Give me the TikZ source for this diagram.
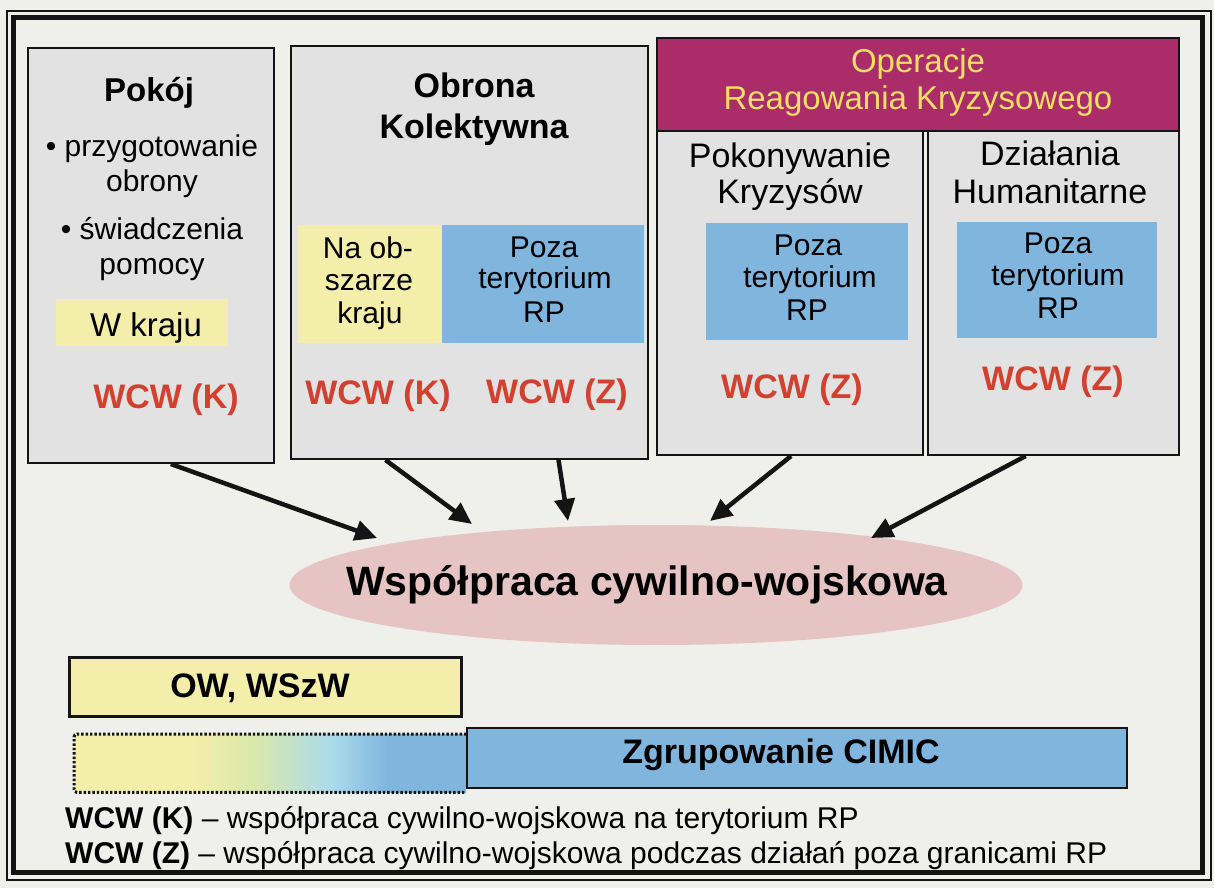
\documentclass[tikz,border=0pt]{standalone}
\usepackage{fontspec}
\setmainfont{Liberation Sans}
\usetikzlibrary{shapes.geometric,arrows.meta,calc}

\definecolor{pagebg}{RGB}{239,240,236}
\definecolor{boxgray}{RGB}{225,226,225}
\definecolor{linec}{RGB}{20,20,20}
\definecolor{paleyellow}{RGB}{243,238,170}
\definecolor{skyblue}{RGB}{128,181,222}
\definecolor{headmag}{RGB}{170,45,105}
\definecolor{headtext}{RGB}{242,222,102}
\definecolor{wcwred}{RGB}{210,64,47}
\definecolor{ovalpink}{RGB}{231,196,196}
\definecolor{midgreen}{RGB}{218,232,172}
\definecolor{midcyan}{RGB}{170,218,236}

\pgfdeclarehorizontalshading{barshade}{100bp}{%
  color(0bp)=(paleyellow); color(25bp)=(paleyellow); color(40bp)=(paleyellow);
  color(48bp)=(midgreen); color(58bp)=(midcyan); color(65bp)=(skyblue);
  color(100bp)=(skyblue)}

\newcommand\setfs[1]{\fontsize{#1}{#1}\selectfont}

\tikzset{
  panel/.style={rectangle, draw=linec, line width=2pt, fill=boxgray,
    inner sep=0pt, anchor=north west},
  patch/.style={rectangle, inner sep=0pt, anchor=north west},
  lbl/.style={anchor=base, inner sep=0pt},
  ttl/.style={lbl, font=\setfs{34}\bfseries},
  txt/.style={lbl, font=\setfs{30}},
  sub/.style={lbl, font=\setfs{34}},
  wcw/.style={lbl, font=\setfs{34}\bfseries, text=wcwred},
  hdr/.style={lbl, font=\setfs{33}, text=headtext},
  arr/.style={draw=linec, line width=4.5pt,
    -{Triangle[length=22pt,width=20pt]}},
}

\begin{document}
\begin{tikzpicture}[x=1pt,y=-1pt]
  % page and double frame
  \fill[pagebg] (0,0) rectangle (1214,888);
  \useasboundingbox (0,0) rectangle (1214,888);
  \draw[linec, line width=1.6pt] (7,11) rectangle (1211,880);
  \draw[linec, line width=5pt] (13.5,17.5) rectangle (1202,872.5);

  % --- Pokój ---
  \node[panel, minimum width=246pt, minimum height=415pt] (pokoj) at (27,47) {};
  \node[ttl, font=\setfs{33}\bfseries] (pokojt) at (149,102) {Pokój};
  \node[txt] (pk1) at (152,156) {• przygotowanie};
  \node[txt] (pk2) at (152,191) {obrony};
  \node[txt] (pk3) at (152,239) {• świadczenia};
  \node[txt] (pk4) at (152,274) {pomocy};
  \node[patch, fill=paleyellow, minimum width=172pt, minimum height=47pt] (wkraju) at (56,299) {};
  \node[lbl, font=\setfs{33}] (wkrajut) at (146,336) {W kraju};
  \node[wcw] (wcw1) at (166,408) {WCW (K)};

  % --- Obrona Kolektywna ---
  \node[panel, minimum width=357pt, minimum height=413pt] (obrona) at (290,45) {};
  \node[ttl] (ob1) at (474,98) {Obrona};
  \node[ttl] (ob2) at (474,138) {Kolektywna};
  \node[patch, fill=paleyellow, minimum width=144pt, minimum height=118pt] (naob) at (298,225) {};
  \node[patch, fill=skyblue, minimum width=202pt, minimum height=118pt] (pozaob) at (442,225) {};
  \node[txt] (na1) at (368,258) {Na ob-};
  \node[txt] (na2) at (369,290) {szarze};
  \node[txt] (na3) at (370,323) {kraju};
  \node[txt] (po1) at (544,257) {Poza};
  \node[txt] (po2) at (545,288) {terytorium};
  \node[txt] (po3) at (544,322) {RP};
  \node[wcw] (wcw2) at (378,404) {WCW (K)};
  \node[wcw] (wcw3) at (557,403) {WCW (Z)};

  % --- Operacje Reagowania Kryzysowego ---
  \node[panel, fill=headmag, minimum width=522pt, minimum height=93pt] (orkhead) at (656,37) {};
  \node[hdr] (h1) at (918,73) {Operacje};
  \node[hdr] (h2) at (918,110) {Reagowania Kryzysowego};

  \node[panel, minimum width=266pt, minimum height=324pt] (pokon) at (656,130) {};
  \node[sub] (pk5) at (790,167) {Pokonywanie};
  \node[sub] (pk6) at (790,203) {Kryzysów};
  \node[patch, fill=skyblue, minimum width=202pt, minimum height=117pt] (pozapk) at (706,223) {};
  \node[txt] (pp1) at (808,255) {Poza};
  \node[txt] (pp2) at (810,287) {terytorium};
  \node[txt] (pp3) at (807,320) {RP};
  \node[wcw] (wcw4) at (792,398) {WCW (Z)};

  \node[panel, minimum width=251pt, minimum height=324pt] (human) at (927,130) {};
  \node[sub] (dh1) at (1050,165) {Działania};
  \node[sub] (dh2) at (1050,203) {Humanitarne};
  \node[patch, fill=skyblue, minimum width=200pt, minimum height=116pt] (pozadh) at (957,222) {};
  \node[txt] (pd1) at (1058,253) {Poza};
  \node[txt] (pd2) at (1058,285) {terytorium};
  \node[txt] (pd3) at (1058,318) {RP};
  \node[wcw] (wcw5) at (1053,390) {WCW (Z)};

  % --- central oval ---
  \node[ellipse, fill=ovalpink, inner sep=0pt, minimum width=733pt, minimum height=120pt] (wsp) at (656,585) {};
  \node[lbl, font=\setfs{41}\bfseries] (wspt) at (647,595) {Współpraca cywilno-wojskowa};

  % --- arrows into the oval ---
  \draw[arr] ($(pokoj.south west)!0.58!(pokoj.south east)$) -- ($(wsp.center)+(-279,-47)$);
  \draw[arr] ($(obrona.south west)!0.266!(obrona.south east)$) -- ($(wsp.center)+(-184,-61)$);
  \draw[arr] ($(obrona.south west)!0.748!(obrona.south east)$) -- ($(wsp.center)+(-88,-64)$);
  \draw[arr] ($(pokon.south west)!0.504!(pokon.south east)$) -- ($(wsp.center)+(54,-64)$);
  \draw[arr] ($(human.south west)!0.39!(human.south east)$) -- ($(wsp.center)+(215,-47)$);

  % --- bottom bars ---
  \node[panel, fill=paleyellow, line width=2.5pt, minimum width=392pt, minimum height=59pt] (ow) at (68,656) {};
  \node[ttl] (owt) at (260,697) {OW, WSzW};

  \node[patch, shading=barshade, minimum width=392pt, minimum height=58pt] (fade) at (74,734) {};
  \draw[linec, line width=3pt, dash pattern=on 2.4pt off 2pt, rounded corners=3pt]
    (fade.north east) -- (fade.north west) -- (fade.south west) -- (fade.south east);
  \node[panel, fill=skyblue, minimum width=660pt, minimum height=60pt] (cimic) at (466,727) {};
  \node[ttl] (cimict) at (781,763) {Zgrupowanie CIMIC};

  % --- legend ---
  \node[lbl, anchor=base west, font=\setfs{30}] (leg1) at (65,828)
    {\textbf{WCW (K)} – współpraca cywilno-wojskowa na terytorium RP};
  \node[lbl, anchor=base west, font=\setfs{30}] (leg2) at (65,863)
    {\textbf{WCW (Z)} – współpraca cywilno-wojskowa podczas działań poza granicami RP};
\end{tikzpicture}
\end{document}
